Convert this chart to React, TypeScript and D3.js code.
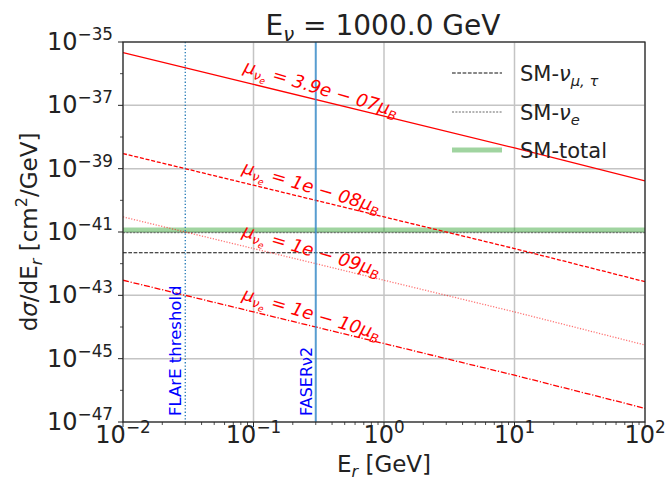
import React from "react";
import * as d3 from "d3";

// ---------- data ----------
const energies = [0.01, 0.1, 1, 10, 100]; // E_r [GeV]
const mu39e7 = [4.6e-36, 4.6e-37, 4.6e-38, 4.5e-39, 4.1e-40];
const mu1e8 = [3.0e-39, 3.0e-40, 3.0e-41, 3.0e-42, 2.7e-43];
const mu1e9 = [3.0e-41, 3.0e-42, 3.0e-43, 3.0e-44, 2.7e-45];
const mu1e10 = [3.0e-43, 3.0e-44, 3.0e-45, 3.0e-46, 2.7e-47];
const smNuMuTau = [2.2e-42, 2.2e-42, 2.2e-42, 2.2e-42, 2.2e-42];
const smNuE = [9.5e-42, 9.5e-42, 9.5e-42, 9.5e-42, 9.5e-42];
const smTotal = [1.15e-41, 1.15e-41, 1.15e-41, 1.15e-41, 1.15e-41];
const muLabels = ["3.9e − 07", "1e − 08", "1e − 09", "1e − 10"];
const labelAt = [0.32, 0.27, 0.27, 0.27];
const xTickExps = [-2, -1, 0, 1, 2];
const yTickExps = [-35, -37, -39, -41, -43, -45, -47];
const flareThreshold = 0.03;
const faserNu2 = 0.3;
const legendLabels = ["SM-", "SM-", "SM-total"];

const W = 667;
const H = 481;
const L = 123, R = 645, T = 42, B = 422;
const FONT = "DejaVu Sans, sans-serif";

type Seg = { t: string; lv: number; it?: boolean };
const lvOff: Record<number, number> = { 0: 0, [-1]: 0.22, [-2]: 0.36, 1: -0.42 };
const lvSize: Record<number, number> = { 0: 1, [-1]: 0.7, [-2]: 0.5, 1: 0.7 };

function mathSpans(segs: Seg[], fs: number) {
  let cur = 0;
  return segs.map((s, i) => {
    const off = lvOff[s.lv] * fs;
    const dy = off - cur;
    cur = off;
    return (
      <tspan key={i} dy={dy} fontSize={lvSize[s.lv] * fs} fontStyle={s.it ? "italic" : undefined}>
        {s.t}
      </tspan>
    );
  });
}

export default function App() {
  const x = d3.scaleLog().domain([1e-2, 1e2]).range([L, R]);
  const y = d3.scaleLog().domain([1e-47, 1e-35]).range([B, T]);

  const mk = (vals: number[]) =>
    d3
      .line<number>()
      .x((_, i) => x(energies[i]))
      .y((v) => y(v))(vals) as string;

  const interp = (vals: number[], e: number) => {
    const le = Math.log10(e);
    const idx = d3.bisectRight(energies.map(Math.log10), le) - 1;
    const i = Math.max(0, Math.min(energies.length - 2, idx));
    const x0 = Math.log10(energies[i]), x1 = Math.log10(energies[i + 1]);
    const y0 = Math.log10(vals[i]), y1 = Math.log10(vals[i + 1]);
    return Math.pow(10, y0 + ((le - x0) / (x1 - x0)) * (y1 - y0));
  };

  const muSeries = [mu39e7, mu1e8, mu1e9, mu1e10];
  const muStyles = [
    { dash: undefined, op: 1, w: 1.3 },
    { dash: "4,1.8", op: 1, w: 1.3 },
    { dash: "1.2,1.6", op: 0.55, w: 1.3 },
    { dash: "6,1.8,1.2,1.8", op: 1, w: 1.3 },
  ];

  const minorX: number[] = [];
  for (let e = -2; e < 2; e++) for (let k = 2; k <= 9; k++) minorX.push(k * Math.pow(10, e));
  const minorY: number[] = [];
  for (let e = -46; e <= -36; e += 2) minorY.push(Math.pow(10, e));

  const tickFs = 24;
  const axisFs = 23;

  return (
    <svg width={W} height={H} style={{ display: "block", position: "absolute", left: 0, top: 0 }} fontFamily={FONT}>
      <rect x={0} y={0} width={W} height={H} fill="white" />
      <defs>
        <clipPath id="plot">
          <rect x={L} y={T} width={R - L} height={B - T} />
        </clipPath>
      </defs>
      {/* grid */}
      {xTickExps.map((e) => (
        <line key={"gx" + e} x1={x(Math.pow(10, e))} x2={x(Math.pow(10, e))} y1={T} y2={B} stroke="#c4c4c4" strokeWidth={1.5} />
      ))}
      {yTickExps.map((e) => (
        <line key={"gy" + e} x1={L} x2={R} y1={y(Math.pow(10, e))} y2={y(Math.pow(10, e))} stroke="#c4c4c4" strokeWidth={1.5} />
      ))}

      <g clipPath="url(#plot)" fill="none">
        {/* SM lines */}
        <path d={mk(smTotal)} stroke="#2ca02c" strokeOpacity={0.45} strokeWidth={5} />
        <path d={mk(smNuE)} stroke="#555" strokeWidth={0.9} strokeDasharray="2,1.4" />
        <path d={mk(smNuMuTau)} stroke="#111" strokeWidth={1.1} strokeDasharray="3.7,1.6" />
        {/* mu lines */}
        {muSeries.map((s, i) => (
          <path key={i} d={mk(s)} stroke="#ff0000" strokeOpacity={muStyles[i].op} strokeWidth={muStyles[i].w} strokeDasharray={muStyles[i].dash} />
        ))}
        {/* vertical lines */}
        <line x1={x(flareThreshold)} x2={x(flareThreshold)} y1={T} y2={B} stroke="#1f77b4" strokeWidth={1.3} strokeDasharray="1.3,2" />
        <line x1={x(faserNu2)} x2={x(faserNu2)} y1={T} y2={B} stroke="#3a8cc8" strokeOpacity={0.85} strokeWidth={2} />
      </g>

      {/* mu labels */}
      {muSeries.map((s, i) => {
        const e = labelAt[i];
        const px = x(e);
        const py = y(interp(s, e)) - 6;
        const fs = 18;
        return (
          <text key={"ml" + i} transform={`translate(${px},${py}) rotate(16.5)`} textAnchor="middle" fill="#ff0000" fontSize={fs} fontStyle="italic">
            {mathSpans(
              [
                { t: "μ", lv: 0 },
                { t: "ν", lv: -1 },
                { t: "e", lv: -2 },
                { t: " = " + muLabels[i] + "μ", lv: 0 },
                { t: "B", lv: -1 },
              ],
              fs
            )}
          </text>
        );
      })}

      {/* vertical line labels */}
      <text transform={`translate(${x(flareThreshold) - 4},${416}) rotate(-90)`} fill="#0000ff" fontSize={16.5}>
        FLArE threshold
      </text>
      <text transform={`translate(${x(faserNu2) - 4},${416}) rotate(-90)`} fill="#0000ff" fontSize={16}>
        FASERν2
      </text>

      {/* spines */}
      <rect x={L} y={T} width={R - L} height={B - T} fill="none" stroke="#222" strokeWidth={1.2} />

      {/* x ticks */}
      {xTickExps.map((e) => (
        <g key={"xt" + e}>
          <line x1={x(Math.pow(10, e))} x2={x(Math.pow(10, e))} y1={B} y2={B + 5} stroke="#222" strokeWidth={1} />
          <text x={x(Math.pow(10, e))} y={443} textAnchor="middle" fontSize={tickFs} fill="#222">
            {mathSpans([
              { t: "10", lv: 0 },
              { t: e < 0 ? "−" + Math.abs(e) : String(e), lv: 1 },
            ], tickFs)}
          </text>
        </g>
      ))}
      {minorX.map((v, i) => (
        <line key={"mx" + i} x1={x(v)} x2={x(v)} y1={B} y2={B + 3} stroke="#222" strokeWidth={0.8} />
      ))}
      {/* y ticks */}
      {yTickExps.map((e) => (
        <g key={"yt" + e}>
          <line x1={L - 5} x2={L} y1={y(Math.pow(10, e))} y2={y(Math.pow(10, e))} stroke="#222" strokeWidth={1} />
          <text x={113} y={y(Math.pow(10, e)) + 8} textAnchor="end" fontSize={tickFs} fill="#222">
            {mathSpans([
              { t: "10", lv: 0 },
              { t: "−" + Math.abs(e), lv: 1 },
            ], tickFs)}
          </text>
        </g>
      ))}
      {minorY.map((v, i) => (
        <line key={"my" + i} x1={L - 3} x2={L} y1={y(v)} y2={y(v)} stroke="#222" strokeWidth={0.8} />
      ))}

      {/* axis labels */}
      <text x={(L + R) / 2} y={472} textAnchor="middle" fontSize={axisFs} fill="#222">
        {mathSpans([
          { t: "E", lv: 0 },
          { t: "r", lv: -1, it: true },
          { t: " [GeV]", lv: 0 },
        ], axisFs)}
      </text>
      <text transform={`translate(37,${(T + B) / 2}) rotate(-90)`} textAnchor="middle" fontSize={axisFs} fill="#222">
        {mathSpans([
          { t: "d", lv: 0 },
          { t: "σ", lv: 0, it: true },
          { t: "/dE", lv: 0 },
          { t: "r", lv: -1, it: true },
          { t: " [cm", lv: 0 },
          { t: "2", lv: 1 },
          { t: "/GeV]", lv: 0 },
        ], axisFs)}
      </text>

      {/* title */}
      <text x={383} y={35} textAnchor="middle" fontSize={28} fill="#222">
        {mathSpans([
          { t: "E", lv: 0 },
          { t: "ν", lv: -1, it: true },
          { t: " = 1000.0 GeV", lv: 0 },
        ], 28)}
      </text>

      {/* legend */}
      {[0, 1, 2].map((i) => {
        const ly = [73, 112, 150][i];
        return (
          <g key={"lg" + i}>
            {i === 0 && <line x1={452} x2={502} y1={ly} y2={ly} stroke="#111" strokeWidth={1.1} strokeDasharray="3.7,1.6" />}
            {i === 1 && <line x1={452} x2={502} y1={ly} y2={ly} stroke="#555" strokeWidth={0.9} strokeDasharray="2,1.4" />}
            {i === 2 && <line x1={452} x2={502} y1={ly} y2={ly} stroke="#2ca02c" strokeOpacity={0.45} strokeWidth={5} />}
            <text x={520} y={ly + 8} fontSize={21} fill="#222">
              {i === 0
                ? mathSpans([
                    { t: legendLabels[0], lv: 0 },
                    { t: "ν", lv: 0, it: true },
                    { t: "μ, τ", lv: -1, it: true },
                  ], 21)
                : i === 1
                ? mathSpans([
                    { t: legendLabels[1], lv: 0 },
                    { t: "ν", lv: 0, it: true },
                    { t: "e", lv: -1, it: true },
                  ], 21)
                : legendLabels[2]}
            </text>
          </g>
        );
      })}
    </svg>
  );
}
